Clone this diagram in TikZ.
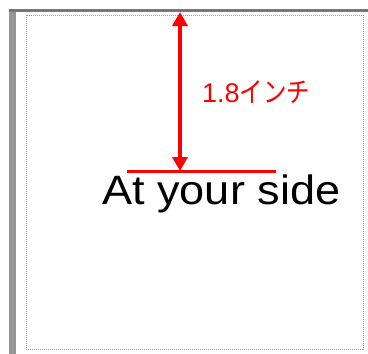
\documentclass[tikz,border=0pt]{standalone}
\usepackage{fontspec}
\setmainfont{Liberation Sans}
\newfontfamily\jpfont{Noto Sans CJK JP}
\usetikzlibrary{arrows.meta}
\definecolor{barA}{RGB}{150,150,150}
\definecolor{barB}{RGB}{118,118,118}
\definecolor{dotc}{RGB}{160,160,160}
\tikzset{
  dim/.style={red, line width=4pt, {Triangle[width=15pt,length=14pt]}-{Triangle[width=15pt,length=14pt]}},
  baseline line/.style={red, line width=3pt},
  frame/.style={dotc, line width=0.9pt, dash pattern=on 1pt off 1pt},
  lbl/.style={red, inner sep=0pt, font=\fontsize{27}{32}\selectfont},
  txt/.style={black, inner sep=0pt, font=\fontsize{41}{46}\selectfont}
}
\begin{document}
\begin{tikzpicture}[x=1pt,y=-1pt]
\useasboundingbox (0,0) rectangle (368,354);
\fill[white] (0,0) rectangle (368,354);
% window edges
\fill[barA] (9,9) rectangle (16,354);
\fill[barB] (9,9) rectangle (368,12);
% dotted page frame
\draw[frame] (26,15) rectangle (363,349);
% baseline and dimension
\coordinate (bl) at (127,171);
\coordinate (br) at (276,171);
\draw[baseline line] (bl) -- (br);
\coordinate (top) at (180,12);
\coordinate (bot) at (180,171);
\draw[dim] (bot) -- (top);
\node[lbl, anchor=base west] (len) at (202,102) {1.8\scalebox{0.84}[1]{\jpfont\fontsize{28}{32}\selectfont インチ}};
\node[txt, anchor=base west] (main) at (102,204) {\scalebox{1.1}[1]{At your side}};
\end{tikzpicture}
\end{document}
